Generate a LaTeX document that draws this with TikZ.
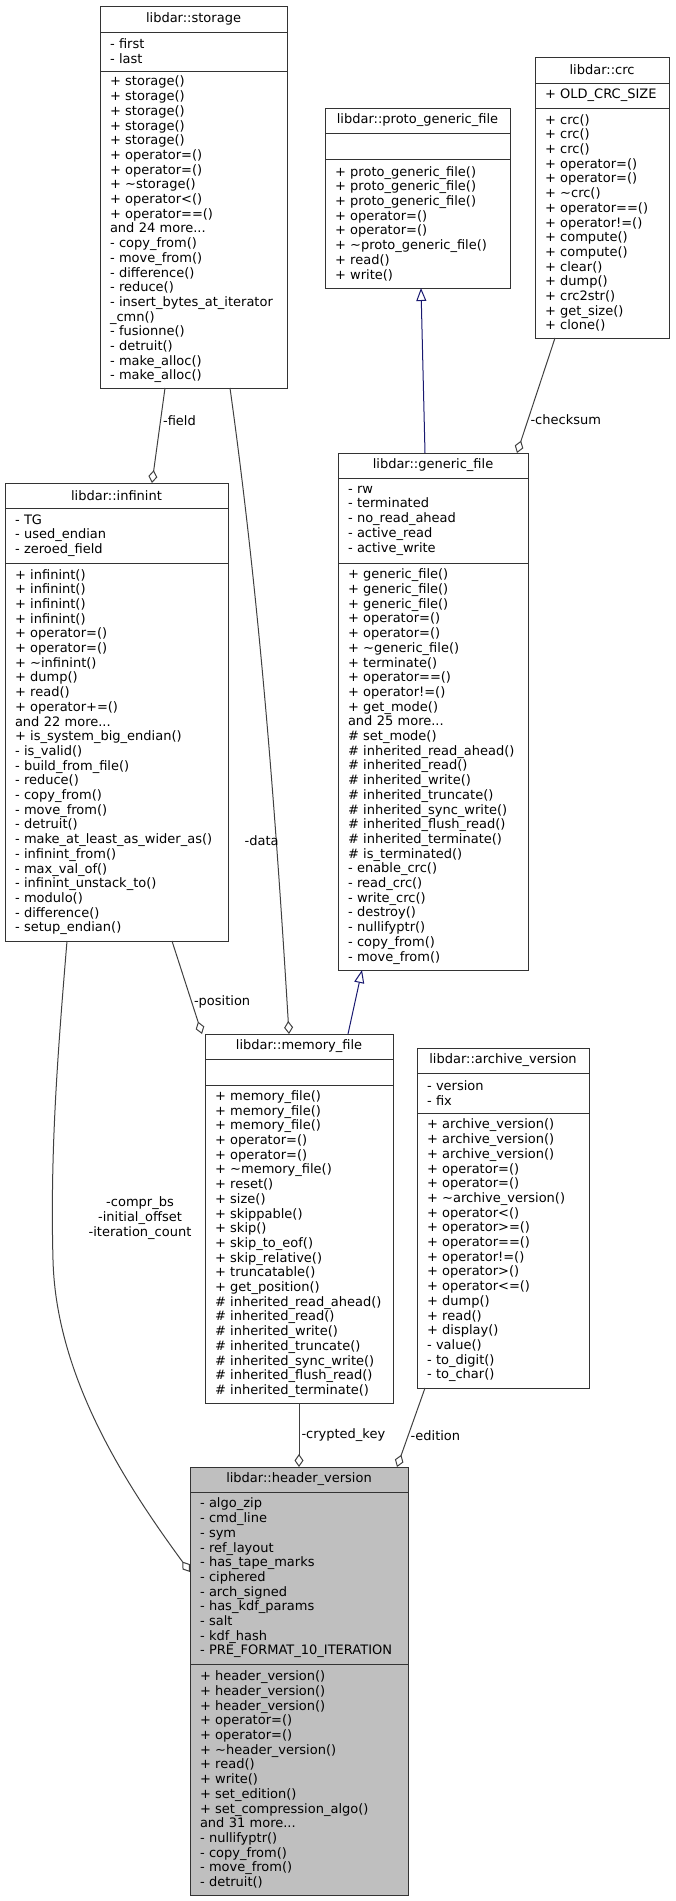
\documentclass[tikz,border=0pt]{standalone}
\usepackage{fontspec}
\setmainfont{DejaVu Sans}
\usetikzlibrary{positioning, arrows.meta}

\definecolor{boxline}{HTML}{333333}
\definecolor{edgegray}{HTML}{404040}
\definecolor{inheritblue}{HTML}{191970}
\definecolor{focusfill}{HTML}{BFBFBF}

\newcommand{\umlfont}{\fontsize{13}{14.7}\selectfont}

\tikzset{
  classtitle/.style={draw=boxline, line width=1pt, fill=white, text width=#1, align=center,
    inner xsep=10pt, inner ysep=0pt, outer sep=0pt, font=\umlfont},
  classpart/.style={draw=boxline, line width=1pt, fill=white, text width=#1, align=left,
    inner xsep=10pt, inner ysep=0pt, outer sep=0pt, font=\umlfont},
  usage/.style={draw=edgegray, line width=1pt, -{Diamond[open, length=13pt, width=9pt]}},
  inherit/.style={draw=inheritblue, line width=1pt, -{Triangle[open, length=13pt, width=10pt]}},
  edgelabel/.style={font=\umlfont, inner sep=2pt},
}

\begin{document}
\begin{tikzpicture}[x=1pt, y=-1pt]
    \useasboundingbox (0,0) rectangle (675,1901);

    % libdar::storage
    \node[classtitle=167pt, minimum height=26pt, anchor=north west] (storage) at (100,6) {libdar::storage};
    \node[classpart=167pt, minimum height=39pt, below=0pt of storage] (storage-a) {- first\\- last};
    \node[classpart=167pt, minimum height=317pt, below=0pt of storage-a] (storage-m) {+ storage()\\+ storage()\\+ storage()\\+ storage()\\+ storage()\\+ operator=()\\+ operator=()\\+ \textasciitilde storage()\\+ operator<()\\+ operator==()\\and 24 more...\\- copy\_from()\\- move\_from()\\- difference()\\- reduce()\\- insert\_bytes\_at\_iterator\\\_cmn()\\- fusionne()\\- detruit()\\- make\_alloc()\\- make\_alloc()};

    % libdar::proto_generic_file
    \node[classtitle=165pt, minimum height=25pt, anchor=north west] (proto) at (325,108) {libdar::proto\_generic\_file};
    \node[classpart=165pt, minimum height=26pt, below=0pt of proto] (proto-a) {};
    \node[classpart=165pt, minimum height=129pt, below=0pt of proto-a] (proto-m) {+ proto\_generic\_file()\\+ proto\_generic\_file()\\+ proto\_generic\_file()\\+ operator=()\\+ operator=()\\+ \textasciitilde proto\_generic\_file()\\+ read()\\+ write()};

    % libdar::crc
    \node[classtitle=114pt, minimum height=26pt, anchor=north west] (crc) at (535,57) {libdar::crc};
    \node[classpart=114pt, minimum height=25pt, below=0pt of crc] (crc-a) {+ OLD\_CRC\_SIZE};
    \node[classpart=114pt, minimum height=230pt, below=0pt of crc-a] (crc-m) {+ crc()\\+ crc()\\+ crc()\\+ operator=()\\+ operator=()\\+ \textasciitilde crc()\\+ operator==()\\+ operator!=()\\+ compute()\\+ compute()\\+ clear()\\+ dump()\\+ crc2str()\\+ get\_size()\\+ clone()};

    % libdar::infinint
    \node[classtitle=203pt, minimum height=25pt, anchor=north west] (infinint) at (5,483) {libdar::infinint};
    \node[classpart=203pt, minimum height=55pt, below=0pt of infinint] (infinint-a) {- TG\\- used\_endian\\- zeroed\_field};
    \node[classpart=203pt, minimum height=378pt, below=0pt of infinint-a] (infinint-m) {+ infinint()\\+ infinint()\\+ infinint()\\+ infinint()\\+ operator=()\\+ operator=()\\+ \textasciitilde infinint()\\+ dump()\\+ read()\\+ operator+=()\\and 22 more...\\+ is\_system\_big\_endian()\\- is\_valid()\\- build\_from\_file()\\- reduce()\\- copy\_from()\\- move\_from()\\- detruit()\\- make\_at\_least\_as\_wider\_as()\\- infinint\_from()\\- max\_val\_of()\\- infinint\_unstack\_to()\\- modulo()\\- difference()\\- setup\_endian()};

    % libdar::generic_file
    \node[classtitle=170pt, minimum height=25pt, anchor=north west] (generic) at (338,453) {libdar::generic\_file};
    \node[classpart=170pt, minimum height=85pt, below=0pt of generic] (generic-a) {- rw\\- terminated\\- no\_read\_ahead\\- active\_read\\- active\_write};
    \node[classpart=170pt, minimum height=407pt, below=0pt of generic-a] (generic-m) {+ generic\_file()\\+ generic\_file()\\+ generic\_file()\\+ operator=()\\+ operator=()\\+ \textasciitilde generic\_file()\\+ terminate()\\+ operator==()\\+ operator!=()\\+ get\_mode()\\and 25 more...\\\# set\_mode()\\\# inherited\_read\_ahead()\\\# inherited\_read()\\\# inherited\_write()\\\# inherited\_truncate()\\\# inherited\_sync\_write()\\\# inherited\_flush\_read()\\\# inherited\_terminate()\\\# is\_terminated()\\- enable\_crc()\\- read\_crc()\\- write\_crc()\\- destroy()\\- nullifyptr()\\- copy\_from()\\- move\_from()};

    % libdar::memory_file
    \node[classtitle=168pt, minimum height=25pt, anchor=north west] (memory) at (205,1034) {libdar::memory\_file};
    \node[classpart=168pt, minimum height=26pt, below=0pt of memory] (memory-a) {};
    \node[classpart=168pt, minimum height=318pt, below=0pt of memory-a] (memory-m) {+ memory\_file()\\+ memory\_file()\\+ memory\_file()\\+ operator=()\\+ operator=()\\+ \textasciitilde memory\_file()\\+ reset()\\+ size()\\+ skippable()\\+ skip()\\+ skip\_to\_eof()\\+ skip\_relative()\\+ truncatable()\\+ get\_position()\\\# inherited\_read\_ahead()\\\# inherited\_read()\\\# inherited\_write()\\\# inherited\_truncate()\\\# inherited\_sync\_write()\\\# inherited\_flush\_read()\\\# inherited\_terminate()};

    % libdar::archive_version
    \node[classtitle=152pt, minimum height=25pt, anchor=north west] (archive) at (417,1048) {libdar::archive\_version};
    \node[classpart=152pt, minimum height=40pt, below=0pt of archive] (archive-a) {- version\\- fix};
    \node[classpart=152pt, minimum height=275pt, below=0pt of archive-a] (archive-m) {+ archive\_version()\\+ archive\_version()\\+ archive\_version()\\+ operator=()\\+ operator=()\\+ \textasciitilde archive\_version()\\+ operator<()\\+ operator>=()\\+ operator==()\\+ operator!=()\\+ operator>()\\+ operator<=()\\+ dump()\\+ read()\\+ display()\\- value()\\- to\_digit()\\- to\_char()};

    % libdar::header_version (the documented class)
    \node[classtitle=198pt, minimum height=25pt, fill=focusfill, anchor=north west] (header) at (190,1467) {libdar::header\_version};
    \node[classpart=198pt, minimum height=172pt, fill=focusfill, below=0pt of header] (header-a) {- algo\_zip\\- cmd\_line\\- sym\\- ref\_layout\\- has\_tape\_marks\\- ciphered\\- arch\_signed\\- has\_kdf\_params\\- salt\\- kdf\_hash\\- PRE\_FORMAT\_10\_ITERATION};
    \node[classpart=198pt, minimum height=231pt, fill=focusfill, below=0pt of header-a] (header-m) {+ header\_version()\\+ header\_version()\\+ header\_version()\\+ operator=()\\+ operator=()\\+ \textasciitilde header\_version()\\+ read()\\+ write()\\+ set\_edition()\\+ set\_compression\_algo()\\and 31 more...\\- nullifyptr()\\- copy\_from()\\- move\_from()\\- detruit()};

    % Inheritance
    \draw[inherit] ([xshift=-8pt]generic.north) -- ([xshift=3.5pt]proto-m.south);
    \draw[inherit] ([xshift=49pt]memory.north) -- ([xshift=-71pt]generic-m.south);

    % Members
    \draw[usage] ([xshift=-28.5pt]storage-m.south) -- ([xshift=35.5pt]infinint.north)
        node[edgelabel, pos=0.34, right] {-field};
    \draw[usage] ([xshift=36.5pt]storage-m.south) .. controls +(30,215) and +(-13,-215) .. ([xshift=-10pt]memory.north)
        node[edgelabel, pos=0.7, left, xshift=5pt] {-data};
    \draw[usage] ([xshift=-47pt]crc-m.south) -- ([xshift=84pt]generic.north)
        node[edgelabel, pos=0.71, right] {-checksum};
    \draw[usage] ([xshift=55.5pt]infinint-m.south) -- ([xshift=-97pt]memory.north)
        node[edgelabel, pos=0.65, right] {-position};
    \draw[usage] ([xshift=-49.5pt]infinint-m.south) .. controls (58,1050) and (50,1150) .. (53,1260)
        .. controls (56,1380) and (130,1490) .. ([yshift=6pt]header-a.west);
    \node[edgelabel, align=center] (comprlabel) at (140,1218) {-compr\_bs\\-initial\_offset\\-iteration\_count};
    \draw[usage] (memory-m.south) -- (header.north)
        node[edgelabel, midway, right] {-crypted\_key};
    \draw[usage] ([xshift=-78pt]archive-m.south) -- ([xshift=98pt]header.north)
        node[edgelabel, pos=0.6, right] {-edition};

\end{tikzpicture}
\end{document}
